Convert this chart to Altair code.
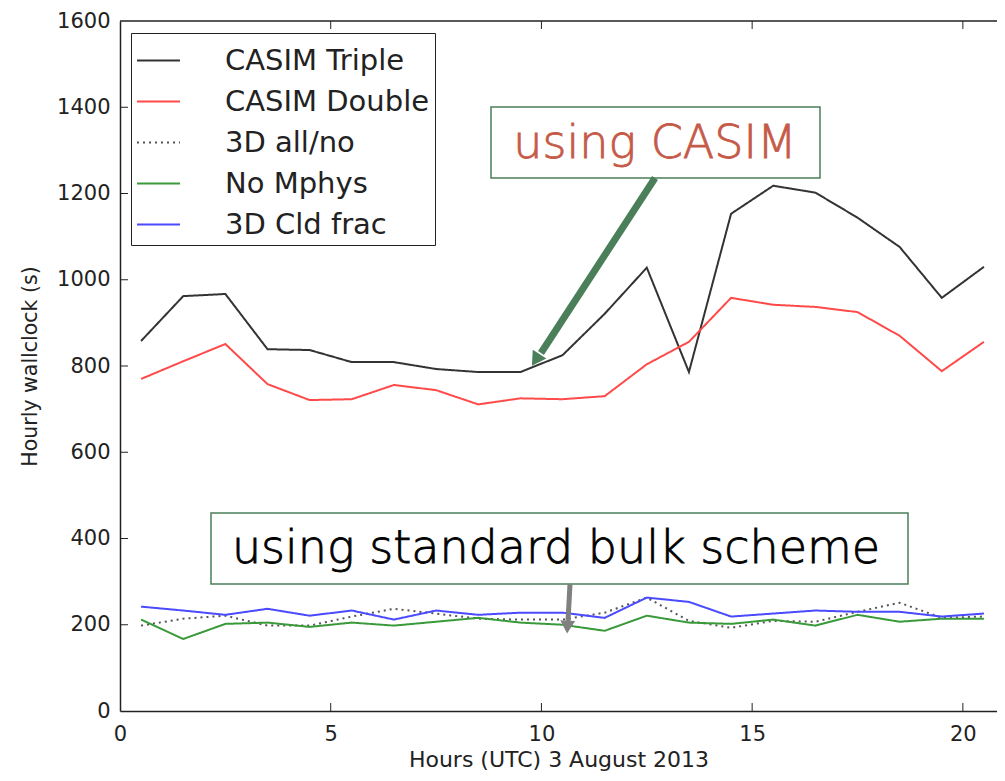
import altair as alt
import pandas as pd

hours = [0.5, 1.5, 2.5, 3.5, 4.5, 5.5, 6.5, 7.5, 8.5, 9.5, 10.5,
         11.5, 12.5, 13.5, 14.5, 15.5, 16.5, 17.5, 18.5, 19.5, 20.5]
casim_triple = [858, 962, 967, 839, 837, 809, 809, 793, 786, 786, 825,
                921, 1028, 786, 1153, 1218, 1202, 1144, 1076, 958, 1030]
casim_double = [770, 811, 851, 758, 721, 723, 756, 744, 711, 725, 723,
                730, 804, 856, 958, 942, 937, 925, 870, 788, 856]
all_no_3d = [198, 214, 221, 198, 198, 219, 237, 226, 214, 212, 212,
             228, 263, 209, 193, 209, 207, 230, 251, 216, 219]
no_mphys = [212, 167, 202, 205, 195, 205, 198, 207, 216, 205, 200,
            186, 221, 205, 202, 212, 198, 223, 207, 214, 214]
cld_frac_3d = [242, 233, 223, 237, 221, 233, 212, 233, 223, 228, 228,
               216, 263, 253, 219, 226, 233, 230, 230, 219, 226]

series_names = ["CASIM Triple", "CASIM Double", "3D all/no", "No Mphys", "3D Cld frac"]
series_values = [casim_triple, casim_double, all_no_3d, no_mphys, cld_frac_3d]
series_colors = ["#333333", "#ff4a4a", "#555555", "#3a9a3a", "#4a4aff"]
series_dash = [[1, 0], [1, 0], [2, 4], [1, 0], [1, 0]]

x_ticks = [5, 10, 15, 20]
y_ticks = [200, 400, 600, 800, 1000, 1200, 1400]

rows = []
for name, vals in zip(series_names, series_values):
    for h, v in zip(hours, vals):
        rows.append({"hour": h, "value": v, "series": name})
df = pd.DataFrame(rows)

W, H = 877, 690
FONT = "DejaVu Sans"
xs = alt.Scale(domain=[0, 20.81], nice=False, zero=False)
ys = alt.Scale(domain=[0, 1600], nice=False)

lines = alt.Chart(df).mark_line(strokeWidth=2, clip=True).encode(
    x=alt.X("hour:Q", scale=xs,
            axis=alt.Axis(values=[0, 5, 10, 15, 20], title="Hours (UTC) 3 August 2013",
                          format="d", tickSize=0, labelPadding=12, labelFlush=False,
                          grid=False, domainColor="#222", domainWidth=1.5,
                          labelFontSize=21, titleFontSize=22, titleFontWeight="normal",
                          titleBaseline="alphabetic", titleY=55,
                          labelColor="#222", titleColor="#222", labelFont=FONT,
                          titleFont=FONT)),
    y=alt.Y("value:Q", scale=ys,
            axis=alt.Axis(values=[0] + y_ticks + [1600], title="Hourly wallclock (s)",
                          format="d", tickSize=0, labelPadding=10, labelFlush=False,
                          grid=False, domainColor="#222", domainWidth=1.5,
                          labelFontSize=21, titleFontSize=20.5, titleFontWeight="normal",
                          titlePadding=16, labelColor="#222", titleColor="#222",
                          labelFont=FONT, titleFont=FONT)),
    color=alt.Color("series:N", scale=alt.Scale(domain=series_names, range=series_colors),
                    legend=alt.Legend(orient="none", legendX=11, legendY=12, title=None,
                                      symbolType="stroke", symbolSize=1849,
                                      symbolStrokeWidth=2, labelFontSize=29,
                                      labelFont=FONT, labelColor="#222",
                                      strokeColor="#222", fillColor="white",
                                      padding=5, rowPadding=3, labelOffset=44,
                                      labelLimit=400)),
    strokeDash=alt.StrokeDash("series:N",
                              scale=alt.Scale(domain=series_names, range=series_dash),
                              legend=alt.Legend(orient="none", legendX=11, legendY=12,
                                                title=None)),
)

top_border = alt.Chart(pd.DataFrame({"a": [0]})).mark_rule(color="#222", strokeWidth=1.5).encode(
    x=alt.value(0), x2=alt.value(W), y=alt.value(0))

yt = alt.Chart(pd.DataFrame({"v": y_ticks})).mark_rule(color="#222", strokeWidth=1).encode(
    y=alt.Y("v:Q", scale=ys), x=alt.value(0), x2=alt.value(8))
xt_bottom = alt.Chart(pd.DataFrame({"v": x_ticks})).mark_rule(color="#222", strokeWidth=1).encode(
    x=alt.X("v:Q", scale=xs), y=alt.value(H), y2=alt.value(H - 8))
xt_top = alt.Chart(pd.DataFrame({"v": x_ticks})).mark_rule(color="#222", strokeWidth=1).encode(
    x=alt.X("v:Q", scale=xs), y=alt.value(0), y2=alt.value(8))

GREEN = "#4a7f5a"
one = pd.DataFrame({"a": [0]})

box1 = alt.Chart(one).mark_rect(fill="white", stroke=GREEN, strokeWidth=1.5).encode(
    x=alt.value(371), x2=alt.value(700), y=alt.value(86), y2=alt.value(157))
text1 = alt.Chart(one).mark_text(text="using CASIM", font=FONT, fontSize=46, fontWeight=200,
                                 color="#c55a48", stroke="#c55a48", strokeWidth=0.8,
                                 align="center", baseline="alphabetic").encode(
    x=alt.value(535), y=alt.value(137))
box2 = alt.Chart(one).mark_rect(fill="white", stroke=GREEN, strokeWidth=1.5).encode(
    x=alt.value(91), x2=alt.value(788), y=alt.value(492), y2=alt.value(563))
text2 = alt.Chart(one).mark_text(text="using standard bulk scheme", font=FONT, fontSize=46,
                                 fontWeight=200, color="#000000", stroke="#000000",
                                 strokeWidth=0.8, align="center",
                                 baseline="alphabetic").encode(
    x=alt.value(436), y=alt.value(542))

arrow1 = alt.Chart(one).mark_rule(color=GREEN, strokeWidth=7).encode(
    x=alt.value(535), y=alt.value(157), x2=alt.value(421), y2=alt.value(332))
head1 = alt.Chart(one).mark_point(shape="triangle", filled=True, color=GREEN, opacity=1,
                                  size=260, angle=213).encode(
    x=alt.value(417), y=alt.value(337))
arrow2 = alt.Chart(one).mark_rule(color="#808080", strokeWidth=5).encode(
    x=alt.value(450), y=alt.value(563), x2=alt.value(448), y2=alt.value(600))
head2 = alt.Chart(one).mark_point(shape="triangle", filled=True, color="#808080", opacity=1,
                                  size=220, angle=183).encode(
    x=alt.value(447.5), y=alt.value(604))

chart = alt.layer(
    lines, top_border, yt, xt_bottom, xt_top,
    box1, text1, arrow1, head1, box2, text2, arrow2, head2
).properties(
    width=W, height=H,
    autosize=alt.AutoSizeParams(type="none"),
    padding={"left": 112, "top": 13, "right": 0, "bottom": 62},
).configure_view(stroke=None)

chart.save("out.html", embed_options={"renderer": "svg", "actions": False})
